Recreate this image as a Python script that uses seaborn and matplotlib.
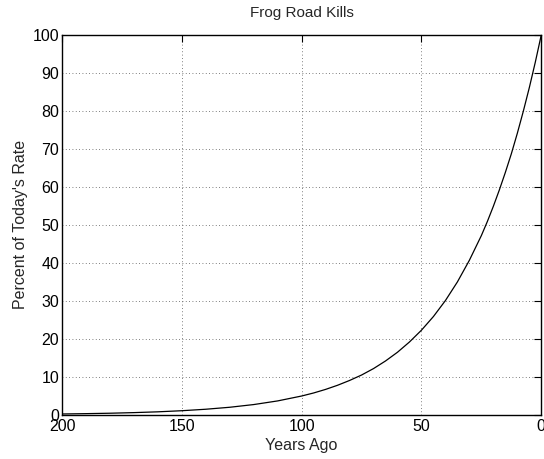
import matplotlib
matplotlib.use("Agg")
import matplotlib.pyplot as plt
import seaborn as sns
import pandas as pd

# -----------------------
# Data
# -----------------------
years_ago = [0, 2.5, 5, 7.5, 10, 12.5, 15, 17.5, 20, 22.5, 25, 30, 35, 40, 45, 50,
             55, 60, 65, 70, 75, 80, 85, 90, 95, 100,
             110, 120, 130, 140, 150, 160, 170, 180, 190, 200]
percent_rate = [100.0, 92.8, 86.1, 79.9, 74.1, 68.7, 63.8, 59.2, 54.9, 50.9, 47.2,
                40.7, 35.0, 30.1, 25.9, 22.3, 19.2, 16.5, 14.2, 12.2, 10.5,
                9.07, 7.81, 6.72, 5.78, 4.98,
                3.69, 2.73, 2.02, 1.50, 1.11, 0.82, 0.61, 0.45, 0.34, 0.25]
x_ticks = [200, 150, 100, 50, 0]
y_ticks = list(range(0, 101, 10))

df = pd.DataFrame({"years": years_ago, "pct": percent_rate})

sns.set_style("white")
plt.rcParams["font.family"] = ["Liberation Sans", "DejaVu Sans"]
plt.rcParams["font.size"] = 11.5

fig = plt.figure(figsize=(5.44, 4.59), dpi=100)
ax = fig.add_axes([0.114, 0.096, 0.881, 0.828])

sns.lineplot(data=df, x="years", y="pct", ax=ax, color="black", linewidth=0.9)

ax.set_xlim(200, 0)
ax.set_ylim(0, 100)
ax.set_xticks(x_ticks)
ax.set_yticks(y_ticks)
ax.grid(True, linestyle=(0, (1, 3)), color="#555555", linewidth=0.6)

for s in ax.spines.values():
    s.set_color("black")
    s.set_linewidth(1.0)
    s.set_visible(True)

ax.tick_params(direction="in", length=5, width=0.8, top=True, right=True,
               labelsize=11.5, colors="black")
ax.tick_params(axis="x", pad=3)
ax.tick_params(axis="y", pad=2)

ax.set_title("Frog Road Kills", fontsize=11, pad=13)
ax.set_xlabel("Years Ago", fontsize=11.5, labelpad=3)
ax.set_ylabel("Percent of Today's Rate", fontsize=11.5, labelpad=3)

fig.savefig("out.png", dpi=100)
